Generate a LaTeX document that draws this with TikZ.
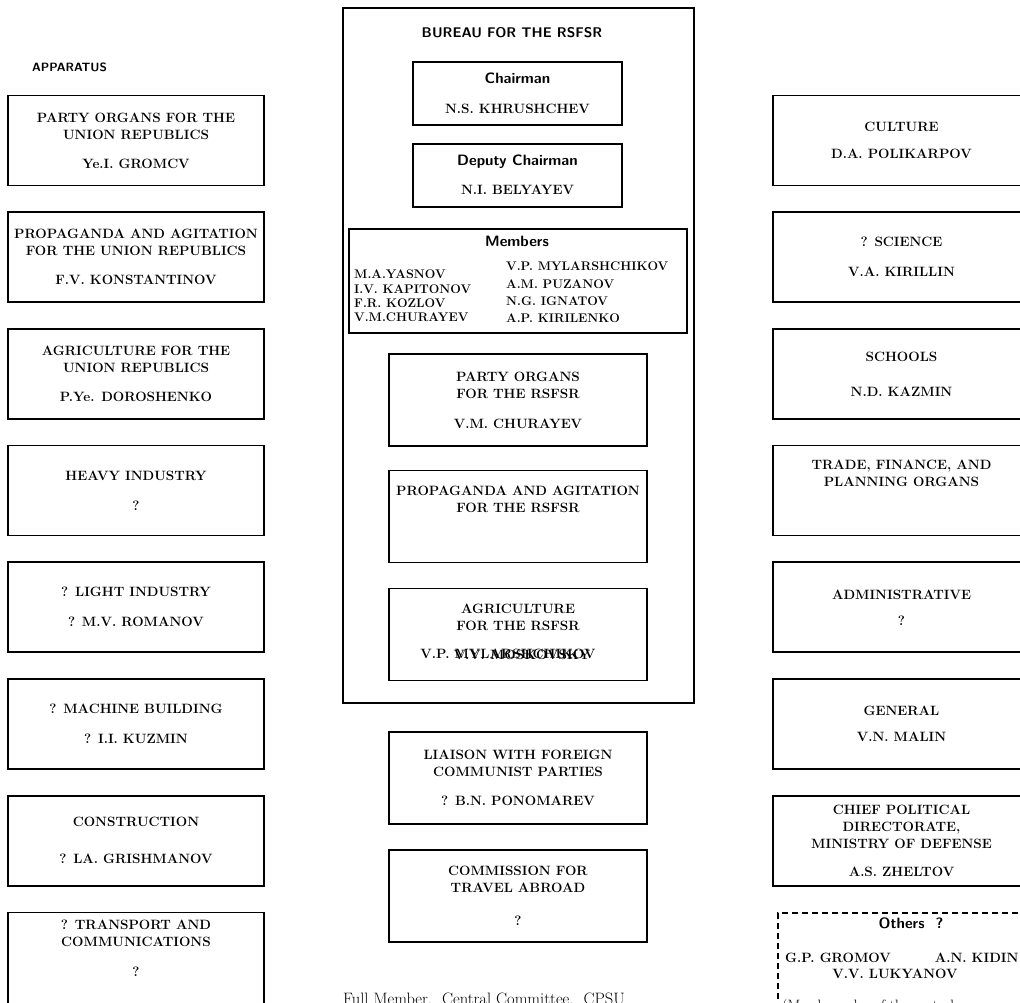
\documentclass[tikz,border=0pt]{standalone}
\usetikzlibrary{positioning}
\begin{document}
\begin{tikzpicture}[x=1pt, y=-1pt, node distance=25pt and 0pt,
	box/.style={draw, line width=1.7pt, minimum width=256pt, minimum height=90pt, inner sep=2pt, align=center, font=\fontsize{13.5}{17}\selectfont\bfseries},
	midbox/.style={box, minimum width=258pt, minimum height=92pt},
	chairbox/.style={box, minimum width=209pt, minimum height=63pt},
	head/.style={font=\fontsize{15}{17}\selectfont\sffamily\bfseries, inner sep=0pt},
	memcol/.style={align=left, inner sep=0pt, font=\fontsize{12.5}{14.3}\selectfont\bfseries}]
	\useasboundingbox (0,0) rectangle (1020,1002);
	\clip (0,0) rectangle (1020,1002);
	% apparatus, left column
	\node[head, font=\fontsize{12}{14}\selectfont\sffamily\bfseries, anchor=west] (app) at (32,67) {APPARATUS};
	\node[box] (orgU) at (136,140.5) {PARTY ORGANS FOR THE\\UNION REPUBLICS\\[12pt]Ye.I. GROMCV};
	\node[box, below=of orgU] (propU) {PROPAGANDA AND AGITATION\\FOR THE UNION REPUBLICS\\[12pt]F.V. KONSTANTINOV};
	\node[box, below=of propU] (agrU) {AGRICULTURE FOR THE\\UNION REPUBLICS\\[12pt]P.Ye. DOROSHENKO};
	\node[box, below=of agrU] (heavy) {HEAVY INDUSTRY\\[13pt]?};
	\node[box, below=of heavy] (light) {? LIGHT INDUSTRY\\[13pt]? M.V. ROMANOV};
	\node[box, below=of light] (mach) {? MACHINE BUILDING\\[13pt]? I.I. KUZMIN};
	\node[box, below=of mach] (constr) {CONSTRUCTION\\[20pt]? LA. GRISHMANOV};
	\node[box, below=of constr, minimum height=112pt] (transp) {? TRANSPORT AND\\COMMUNICATIONS\\[13pt]?\\[19pt]\strut};
	% bureau for the rsfsr
	\node[draw, line width=1.9pt, minimum width=351pt, minimum height=695pt] (bur) at (518.5,355.5) {};
	\node[head, font=\fontsize{14}{17}\selectfont\sffamily\bfseries] (burT) at (512,33) {BUREAU FOR THE RSFSR};
	\node[chairbox] (chair) at (517.5,93.5) {{\sffamily\fontsize{15}{17}\selectfont Chairman}\\[13pt]N.S. KHRUSHCHEV};
	\node[chairbox, below=17pt of chair] (dep) {{\sffamily\fontsize{15}{17}\selectfont Deputy Chairman}\\[12pt]N.I. BELYAYEV};
	\node[draw, line width=1.7pt, minimum width=338pt, minimum height=104pt] (mem) at (518,281) {};
	\node[head] (memT) at (517,241) {Members};
	\node[memcol, anchor=north west] (memL) at (354,270) {M.A.YASNOV\\I.V. KAPITONOV\\F.R. KOZLOV\\V.M.CHURAYEV};
	\node[memcol, anchor=north west, font=\fontsize{12.5}{17.3}\selectfont\bfseries] (memR) at (506,262) {V.P. MYLARSHCHIKOV\\A.M. PUZANOV\\N.G. IGNATOV\\A.P. KIRILENKO};
	\node[midbox, below=19.5pt of mem] (orgR) {PARTY ORGANS\\FOR THE RSFSR\\[13pt]V.M. CHURAYEV};
	\node[midbox, below=22.5pt of orgR] (propR) {PROPAGANDA AND AGITATION\\FOR THE RSFSR\\[13pt]\strut};
	\node[midbox, below=24.5pt of propR] (agrR) {AGRICULTURE\\FOR THE RSFSR\\[13pt]\strut};
	\node[font=\fontsize{13.5}{17}\selectfont\bfseries] (agrN1) at ([xshift=-10pt, yshift=-19pt]agrR.center) {V.P. MYLARSHCHIKOV};
	\node[font=\fontsize{13.5}{17}\selectfont\bfseries] (agrN2) at ([xshift=4pt, yshift=-20pt]agrR.center) {V.V. MOSKOVSKY};
	% outside the bureau
	\node[midbox, below=49.5pt of agrR] (liais) {LIAISON WITH FOREIGN\\COMMUNIST PARTIES\\[12pt]? B.N. PONOMAREV};
	\node[midbox, below=24.5pt of liais] (travel) {COMMISSION FOR\\TRAVEL ABROAD\\[16pt]?};
	\node[anchor=base, font=\fontsize{16.5}{18}\selectfont, inner sep=0pt] (foot) at (484,1004.5) {Full Member,\ \ Central Committee,\ \ CPSU};
	% right column
	\node[box, minimum width=257pt] (cult) at (901.5,140.5) {CULTURE\\[10pt]D.A. POLIKARPOV};
	\node[box, minimum width=257pt, below=of cult] (sci) {? SCIENCE\\[13pt]V.A. KIRILLIN};
	\node[box, minimum width=257pt, below=of sci] (school) {SCHOOLS\\[18pt]N.D. KAZMIN};
	\node[box, minimum width=257pt, below=of school] (trade) {TRADE, FINANCE, AND\\PLANNING ORGANS\\[13pt]\strut};
	\node[box, minimum width=257pt, below=of trade] (admin) {ADMINISTRATIVE\\[9pt]?};
	\node[box, minimum width=257pt, below=of admin] (gen) {GENERAL\\[9pt]V.N. MALIN};
	\node[box, minimum width=257pt, below=of gen] (polit) {CHIEF POLITICAL\\DIRECTORATE,\\MINISTRY OF DEFENSE\\[11pt]A.S. ZHELTOV};
	\node[draw, dashed, dash pattern=on 6pt off 4pt, line width=1.5pt, minimum width=260pt, minimum height=120pt, anchor=north west] (oth) at (777,912) {};
	\node[head] (othT) at (911,923) {Others\ \ ?};
	\node[memcol, font=\fontsize{13.5}{17}\selectfont\bfseries, anchor=base west] (othA) at (785,962) {G.P. GROMOV\hspace{44pt}A.N. KIDIN};
	\node[memcol, font=\fontsize{13.5}{17}\selectfont\bfseries, anchor=base] (othB) at (895,978) {V.V. LUKYANOV};
	\node[anchor=base west, font=\fontsize{15}{17}\selectfont, inner sep=0pt] (othN) at (782,1010) {(Members also of the central};
\end{tikzpicture}
\end{document}
